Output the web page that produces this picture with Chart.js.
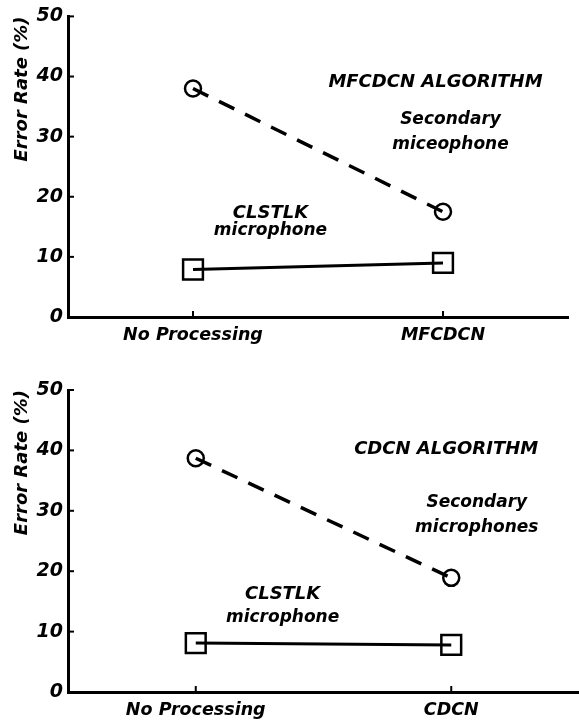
<!DOCTYPE html>
<html>
<head>
<meta charset="utf-8">
<script src="https://cdn.jsdelivr.net/npm/chart.js"></script>
<style>
  html, body { margin: 0; padding: 0; background: #fff; }
  #wrap { position: relative; width: 579px; height: 721px; }
  canvas { position: absolute; left: 0; display: block; }
</style>
</head>
<body>
<div id="wrap">
  <canvas id="chartTop" width="579" height="345" style="top:0"></canvas>
  <canvas id="chartBottom" width="579" height="376" style="top:345px"></canvas>
</div>
<script>
// values (error rate, %)
const categoriesTop = ['No Processing', 'MFCDCN'];
const categoriesBottom = ['No Processing', 'CDCN'];
const secondaryTop = [38.0, 17.5];
const clstlkTop = [7.9, 9.0];
const secondaryBottom = [38.7, 18.9];
const clstlkBottom = [8.1, 7.8];
const yMin = 0;
const yMax = 50;
const yStep = 10;

// text notes placed in data coordinates (x = category index)
const notesTop = [
  { text: 'MFCDCN ALGORITHM', x: 0.97, y: 39.0, size: 18 },
  { text: 'Secondary', x: 1.03, y: 32.8, size: 17 },
  { text: 'miceophone', x: 1.03, y: 28.7, size: 17 },
  { text: 'CLSTLK', x: 0.31, y: 17.2, size: 18 },
  { text: 'microphone', x: 0.31, y: 14.3, size: 17 }
];
const notesBottom = [
  { text: 'CDCN ALGORITHM', x: 0.98, y: 40.2, size: 18 },
  { text: 'Secondary', x: 1.10, y: 31.3, size: 17 },
  { text: 'microphones', x: 1.10, y: 27.3, size: 17 },
  { text: 'CLSTLK', x: 0.34, y: 16.1, size: 18 },
  { text: 'microphone', x: 0.34, y: 12.4, size: 17 }
];

const FAMILY = '"DejaVu Sans", "Liberation Sans", sans-serif';

// draws the notes and the small inward tick marks
const notesPlugin = {
  id: 'notes',
  afterDatasetsDraw(chart, args, opts) {
    const { ctx, chartArea, scales: { x, y } } = chart;
    ctx.save();
    ctx.strokeStyle = '#000';
    ctx.lineWidth = 2;
    y.ticks.forEach((t, i) => {
      const py = y.getPixelForTick(i);
      ctx.beginPath();
      ctx.moveTo(chartArea.left, py);
      ctx.lineTo(chartArea.left + 6, py);
      ctx.stroke();
    });
    x.ticks.forEach((t, i) => {
      const px = x.getPixelForTick(i);
      ctx.beginPath();
      ctx.moveTo(px, chartArea.bottom);
      ctx.lineTo(px, chartArea.bottom - 6);
      ctx.stroke();
    });
    ctx.fillStyle = '#000';
    ctx.textAlign = 'center';
    ctx.textBaseline = 'middle';
    (opts.notes || []).forEach(n => {
      ctx.font = 'italic bold ' + n.size + 'px ' + FAMILY;
      ctx.fillText(n.text, x.getPixelForValue(n.x), y.getPixelForValue(n.y));
    });
    ctx.restore();
  }
};

function makeChart(id, cats, secVals, clsVals, notes, padTop, padRight, xHeight) {
  const ctx = document.getElementById(id).getContext('2d');
  return new Chart(ctx, {
    type: 'line',
    data: {
      labels: cats,
      datasets: [{
        label: 'Secondary microphone',
        data: secVals,
        borderColor: '#000',
        borderWidth: 3.5,
        borderDash: [17, 12],
        pointStyle: 'circle',
        pointRadius: 8,
        pointBorderWidth: 2.5,
        pointBorderColor: '#000',
        pointBackgroundColor: 'rgba(0,0,0,0)',
        fill: false,
        tension: 0
      }, {
        label: 'CLSTLK microphone',
        data: clsVals,
        borderColor: '#000',
        borderWidth: 3,
        pointStyle: 'rect',
        pointRadius: 14,
        pointBorderWidth: 2.5,
        pointBorderColor: '#000',
        pointBackgroundColor: 'rgba(0,0,0,0)',
        fill: false,
        tension: 0
      }]
    },
    options: {
      responsive: false,
      animation: false,
      layout: { autoPadding: false, padding: { top: padTop, right: padRight, left: 0, bottom: 0 } },
      plugins: {
        legend: { display: false },
        tooltip: { enabled: false },
        notes: { notes: notes }
      },
      scales: {
        x: {
          offset: true,
          grid: { display: false, drawTicks: false },
          border: { display: true, color: '#000', width: 3 },
          ticks: {
            color: '#000',
            padding: 8,
            font: { family: FAMILY, size: 17.5, style: 'italic', weight: 'bold' }
          },
          afterFit: s => { s.height = xHeight; }
        },
        y: {
          min: yMin,
          max: yMax,
          grid: { display: false, drawTicks: false },
          border: { display: true, color: '#000', width: 3 },
          ticks: {
            stepSize: yStep,
            color: '#000',
            padding: 5,
            font: { family: FAMILY, size: 19, style: 'italic', weight: 'bold' }
          },
          title: {
            display: true,
            text: 'Error Rate (%)',
            align: 'end',
            color: '#000',
            padding: { top: 12, bottom: 0 },
            font: { family: FAMILY, size: 18, style: 'italic', weight: 'bold' }
          },
          afterFit: s => { s.width = 68; }
        }
      }
    },
    plugins: [notesPlugin]
  });
}

makeChart('chartTop', categoriesTop, secondaryTop, clstlkTop, notesTop, 12, 11, 28);
makeChart('chartBottom', categoriesBottom, secondaryBottom, clstlkBottom, notesBottom, 45, 0, 29);
</script>
</body>
</html>
